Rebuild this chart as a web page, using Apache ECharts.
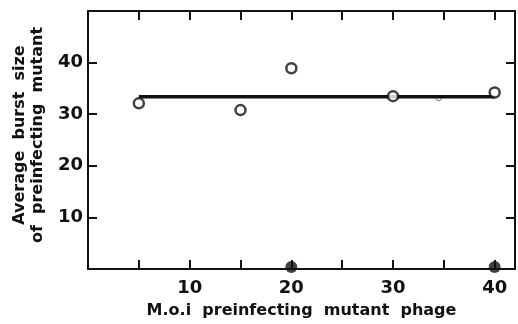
<!DOCTYPE html>
<html>
<head>
<meta charset="utf-8">
<script src="https://cdn.jsdelivr.net/npm/echarts@6/dist/echarts.min.js"></script>
<style>
  html, body { margin: 0; padding: 0; background: #fff; }
  #chart { width: 518px; height: 324px; }
</style>
</head>
<body>
<div id="chart"></div>
<script>
// Multiplicity of preinfection vs. average burst size of the preinfecting mutant
const moi = [5, 15, 20, 30, 34.5, 40];
const burstSize = [32.1, 30.8, 38.9, 33.5, 33.1, 34.2];
// Filled points lying on the baseline
const baseMoi = [20, 40];
const baseValues = [0.4, 0.4];
// Mean level drawn across the range
const meanX = [5, 40];
const meanY = [33.4, 33.4];
const xTickLabels = ['10', '20', '30', '40'];
const yTickLabels = ['10', '20', '30', '40'];

const FONT = 'DejaVu Sans';
const INK = '#111';

const chart = echarts.init(document.getElementById('chart'), null, { renderer: 'canvas' });

const openPts = moi.map((x, i) => [x, burstSize[i]]);
const filledPts = baseMoi.map((x, i) => [x, baseValues[i]]);
const meanPts = meanX.map((x, i) => [x, meanY[i]]);

const axisLine = { show: true, onZero: false, lineStyle: { color: INK, width: 2 } };
const tickIn = { show: true, inside: true, length: 9, lineStyle: { color: INK, width: 2 } };

chart.setOption({
  animation: false,
  backgroundColor: '#fff',
  grid: { left: 88, right: 3, top: 11, bottom: 55 },
  xAxis: [
    {
      type: 'value', min: 0, max: 42, interval: 5, position: 'bottom',
      axisLine, axisTick: tickIn, splitLine: { show: false },
      axisLabel: {
        color: INK, fontFamily: FONT, fontWeight: 'bold', fontSize: 18, margin: 10,
        formatter: v => xTickLabels.includes(String(v)) ? String(v) : ''
      },
      name: 'M.o.i  preinfecting  mutant  phage', nameLocation: 'middle', nameGap: 34,
      nameTextStyle: { color: INK, fontFamily: FONT, fontWeight: 'bold', fontSize: 16 }
    },
    {
      type: 'value', min: 0, max: 42, interval: 5, position: 'top',
      axisLine, axisTick: tickIn, axisLabel: { show: false }, splitLine: { show: false }
    }
  ],
  yAxis: [
    {
      type: 'value', min: 0, max: 50, interval: 10, position: 'left',
      axisLine, axisTick: tickIn, splitLine: { show: false },
      axisLabel: {
        color: INK, fontFamily: FONT, fontWeight: 'bold', fontSize: 18, margin: 5,
        formatter: v => yTickLabels.includes(String(v)) ? String(v) : ''
      },
      name: 'Average  burst  size\nof  preinfecting  mutant', nameLocation: 'middle', nameGap: 34,
      nameTextStyle: {
        color: INK, fontFamily: FONT, fontWeight: 'bold', fontSize: 16, lineHeight: 18,
        padding: [0, 0, 0, 10]
      }
    },
    {
      type: 'value', min: 0, max: 50, interval: 10, position: 'right',
      axisLine, axisTick: tickIn, axisLabel: { show: false }, splitLine: { show: false }
    }
  ],
  series: [
    {
      type: 'line', data: meanPts, symbol: 'none', z: 2,
      lineStyle: { color: INK, width: 3.5 }
    },
    {
      type: 'scatter', data: openPts.filter((_, i) => moi[i] !== 34.5), symbol: 'circle', symbolSize: 10, z: 3,
      itemStyle: { color: '#fff', borderColor: INK, borderWidth: 2.5 }
    },
    {
      type: 'scatter', data: openPts.filter((_, i) => moi[i] === 34.5), symbol: 'circle', symbolSize: 5, z: 1,
      itemStyle: { color: '#fff', borderColor: '#555', borderWidth: 1 }
    },
    {
      type: 'scatter', data: filledPts, symbol: 'circle', symbolSize: 12, z: 4, clip: false,
      itemStyle: { color: INK }
    }
  ]
});
</script>
</body>
</html>
